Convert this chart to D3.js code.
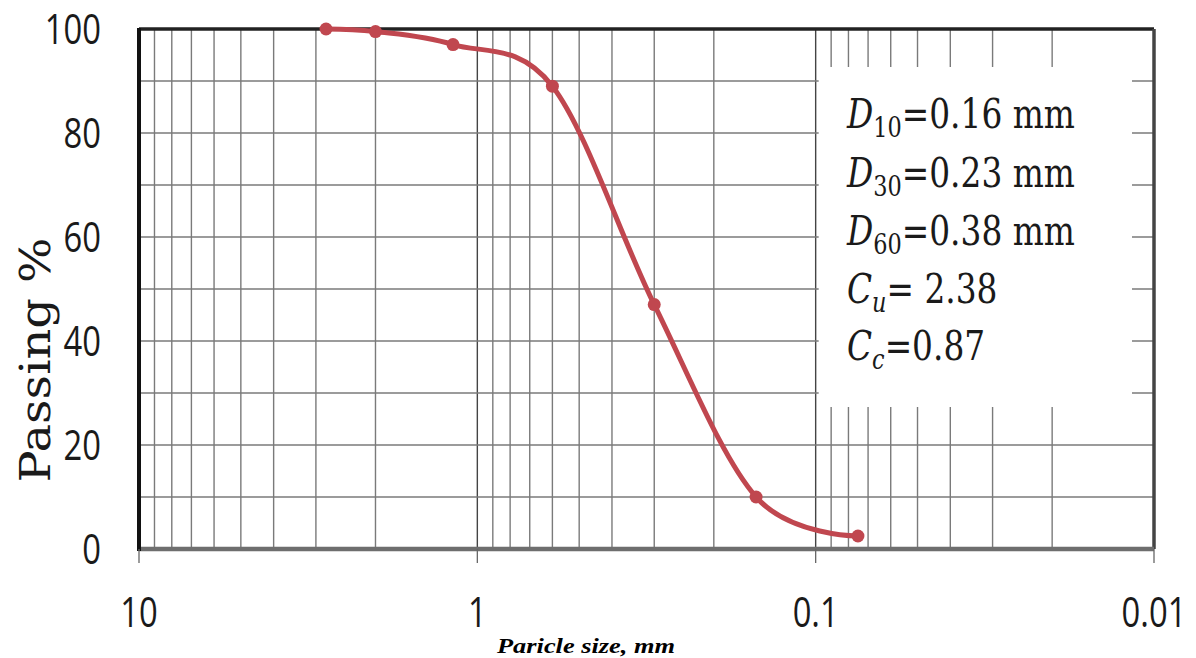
<!DOCTYPE html>
<html>
<head>
<meta charset="utf-8">
<script src="https://cdn.jsdelivr.net/npm/d3@7"></script>
<style>
  body { margin: 0; background: #fff; }
  svg { display: block; }
</style>
</head>
<body>
<div id="plot"></div>
<script>
// data
var sieveSizes = [2.8, 2.0, 1.18, 0.6, 0.3, 0.15, 0.075];
var passing = [100, 99.5, 97, 89, 47, 10, 2.5];
var xTickValues = [10, 1, 0.1, 0.01];
var xTickLabels = ["10", "1", "0.1", "0.01"];
var yTickValues = [0, 20, 40, 60, 80, 100];
var boxLines = [
    { sym: "D", sub: "10", rest: "=0.16 mm", subItalic: false },
    { sym: "D", sub: "30", rest: "=0.23 mm", subItalic: false },
    { sym: "D", sub: "60", rest: "=0.38 mm", subItalic: false },
    { sym: "C", sub: "u", rest: "= 2.38", subItalic: true },
    { sym: "C", sub: "c", rest: "=0.87", subItalic: true }
];

/* Step 1: workspace */
var svgWidth = 1196;
var svgHeight = 658;
var margin = { top: 29, right: 42, bottom: 109, left: 139 };
var width = svgWidth - margin.left - margin.right;
var height = svgHeight - margin.top - margin.bottom;

var svg = d3.select("#plot")
    .append("svg")
    .attr("width", svgWidth)
    .attr("height", svgHeight);

var chartGroup = svg.append("g")
    .attr("transform", `translate(${margin.left}, ${margin.top})`);

/* Step 2: scales (log x, reversed) */
var xScale = d3.scaleLog()
    .domain([10, 0.01])
    .range([0, width]);

var yScale = d3.scaleLinear()
    .domain([0, 100])
    .range([height, 0]);

/* Step 3: grid */
var minorX = [];
[-2, -1, 0].forEach(function (e) {
    for (var k = 1; k <= 9; k++) minorX.push(k * Math.pow(10, e));
});
minorX = minorX.filter(v => v > 0.0101 && v < 9.99);

chartGroup.append("g")
    .attr("class", "xgrid")
    .selectAll("line")
    .data(minorX)
    .enter()
    .append("line")
    .attr("x1", d => xScale(d))
    .attr("x2", d => xScale(d))
    .attr("y1", 0)
    .attr("y2", height)
    .attr("stroke", d => (Math.abs(d - 1) < 1e-9 || Math.abs(d - 0.1) < 1e-9) ? "#444" : "#7a7a7a")
    .attr("stroke-width", 1.4);

chartGroup.append("g")
    .attr("class", "ygrid")
    .selectAll("line")
    .data(d3.range(10, 100, 10))
    .enter()
    .append("line")
    .attr("x1", 0)
    .attr("x2", width)
    .attr("y1", d => yScale(d))
    .attr("y2", d => yScale(d))
    .attr("stroke", "#7a7a7a")
    .attr("stroke-width", 1.4);

// white text box hides the grid behind it
var boxX0 = xScale(0.1) + 3;
chartGroup.append("rect")
    .attr("x", boxX0)
    .attr("y", 38)
    .attr("width", width - boxX0 - 22)
    .attr("height", 340)
    .attr("fill", "#fff");

/* Step 4: frame and axes */
chartGroup.append("line")
    .attr("x1", 0).attr("x2", width)
    .attr("y1", 0).attr("y2", 0)
    .attr("stroke", "#222").attr("stroke-width", 3.5);
chartGroup.append("line")
    .attr("x1", width).attr("x2", width)
    .attr("y1", 0).attr("y2", height)
    .attr("stroke", "#444").attr("stroke-width", 3.5);
chartGroup.append("line")
    .attr("x1", 0).attr("x2", width)
    .attr("y1", height).attr("y2", height)
    .attr("stroke", "#6e6e6e").attr("stroke-width", 4.5);
chartGroup.append("line")
    .attr("x1", 0).attr("x2", 0)
    .attr("y1", -1).attr("y2", height + 2)
    .attr("stroke", "#111").attr("stroke-width", 4);

// decade tick marks under the x axis
chartGroup.selectAll(".xtick")
    .data(xTickValues)
    .enter()
    .append("line")
    .attr("class", "xtick")
    .attr("x1", d => xScale(d))
    .attr("x2", d => xScale(d))
    .attr("y1", height)
    .attr("y2", height + 14)
    .attr("stroke", "#666")
    .attr("stroke-width", 1.3);

// tick labels (narrow, Calibri-like)
chartGroup.selectAll(".xlabel")
    .data(xTickValues)
    .enter()
    .append("g")
    .attr("class", "xlabel")
    .attr("transform", d => `translate(${xScale(d)}, ${height + 78}) scale(0.78,1)`)
    .append("text")
    .attr("text-anchor", "middle")
    .style("font-family", "'Open Sans', sans-serif")
    .style("font-size", "42px")
    .style("font-weight", "500")
    .attr("fill", "#1a1a1a")
    .text((d, i) => xTickLabels[i]);

chartGroup.selectAll(".ylabel")
    .data(yTickValues)
    .enter()
    .append("g")
    .attr("class", "ylabel")
    .attr("transform", d => `translate(-38, ${yScale(d)}) scale(0.78,1)`)
    .append("text")
    .attr("text-anchor", "end")
    .attr("dy", "0.36em")
    .style("font-family", "'Open Sans', sans-serif")
    .style("font-size", "42px")
    .style("font-weight", "500")
    .attr("fill", "#1a1a1a")
    .text(d => d);

/* Step 5: the curve */
var lineGenerator = d3.line()
    .x((d, i) => xScale(sieveSizes[i]))
    .y(d => yScale(d))
    .curve(d3.curveCardinal.tension(0));

chartGroup.append("path")
    .attr("d", lineGenerator(passing))
    .attr("fill", "none")
    .attr("stroke", "#c0474f")
    .attr("stroke-width", 5);

chartGroup.selectAll("circle")
    .data(passing)
    .enter()
    .append("circle")
    .attr("cx", (d, i) => xScale(sieveSizes[i]))
    .attr("cy", d => yScale(d))
    .attr("r", 6.5)
    .attr("fill", "#c0474f");

/* Step 6: titles and the text box */
svg.append("text")
    .attr("transform", "translate(50, 360) rotate(-90)")
    .attr("text-anchor", "middle")
    .attr("textLength", 245)
    .attr("lengthAdjust", "spacingAndGlyphs")
    .style("font-family", "'DejaVu Serif', serif")
    .style("font-size", "42px")
    .attr("fill", "#1a1a1a")
    .text("Passing %");

svg.append("text")
    .attr("x", 586)
    .attr("y", 653)
    .attr("text-anchor", "middle")
    .attr("textLength", 178)
    .attr("lengthAdjust", "spacingAndGlyphs")
    .style("font-family", "'Liberation Serif', serif")
    .style("font-size", "22px")
    .style("font-weight", "bold")
    .style("font-style", "italic")
    .attr("fill", "#000")
    .text("Paricle size, mm");

var boxBase = [128, 187, 245, 303, 360];
var boxGroup = svg.selectAll(".boxline")
    .data(boxLines)
    .enter()
    .append("g")
    .attr("class", "boxline")
    .attr("transform", (d, i) => `translate(847, ${boxBase[i]}) scale(0.8,1)`);

var boxText = boxGroup.append("text")
    .style("font-family", "'DejaVu Serif', serif")
    .style("font-size", "41px")
    .attr("fill", "#1a1a1a");

boxText.append("tspan")
    .style("font-style", "italic")
    .text(d => d.sym);
boxText.append("tspan")
    .attr("dy", 9)
    .style("font-size", "28px")
    .style("font-style", d => d.subItalic ? "italic" : "normal")
    .text(d => d.sub);
boxText.append("tspan")
    .attr("dy", -9)
    .text(d => d.rest);
</script>
</body>
</html>
